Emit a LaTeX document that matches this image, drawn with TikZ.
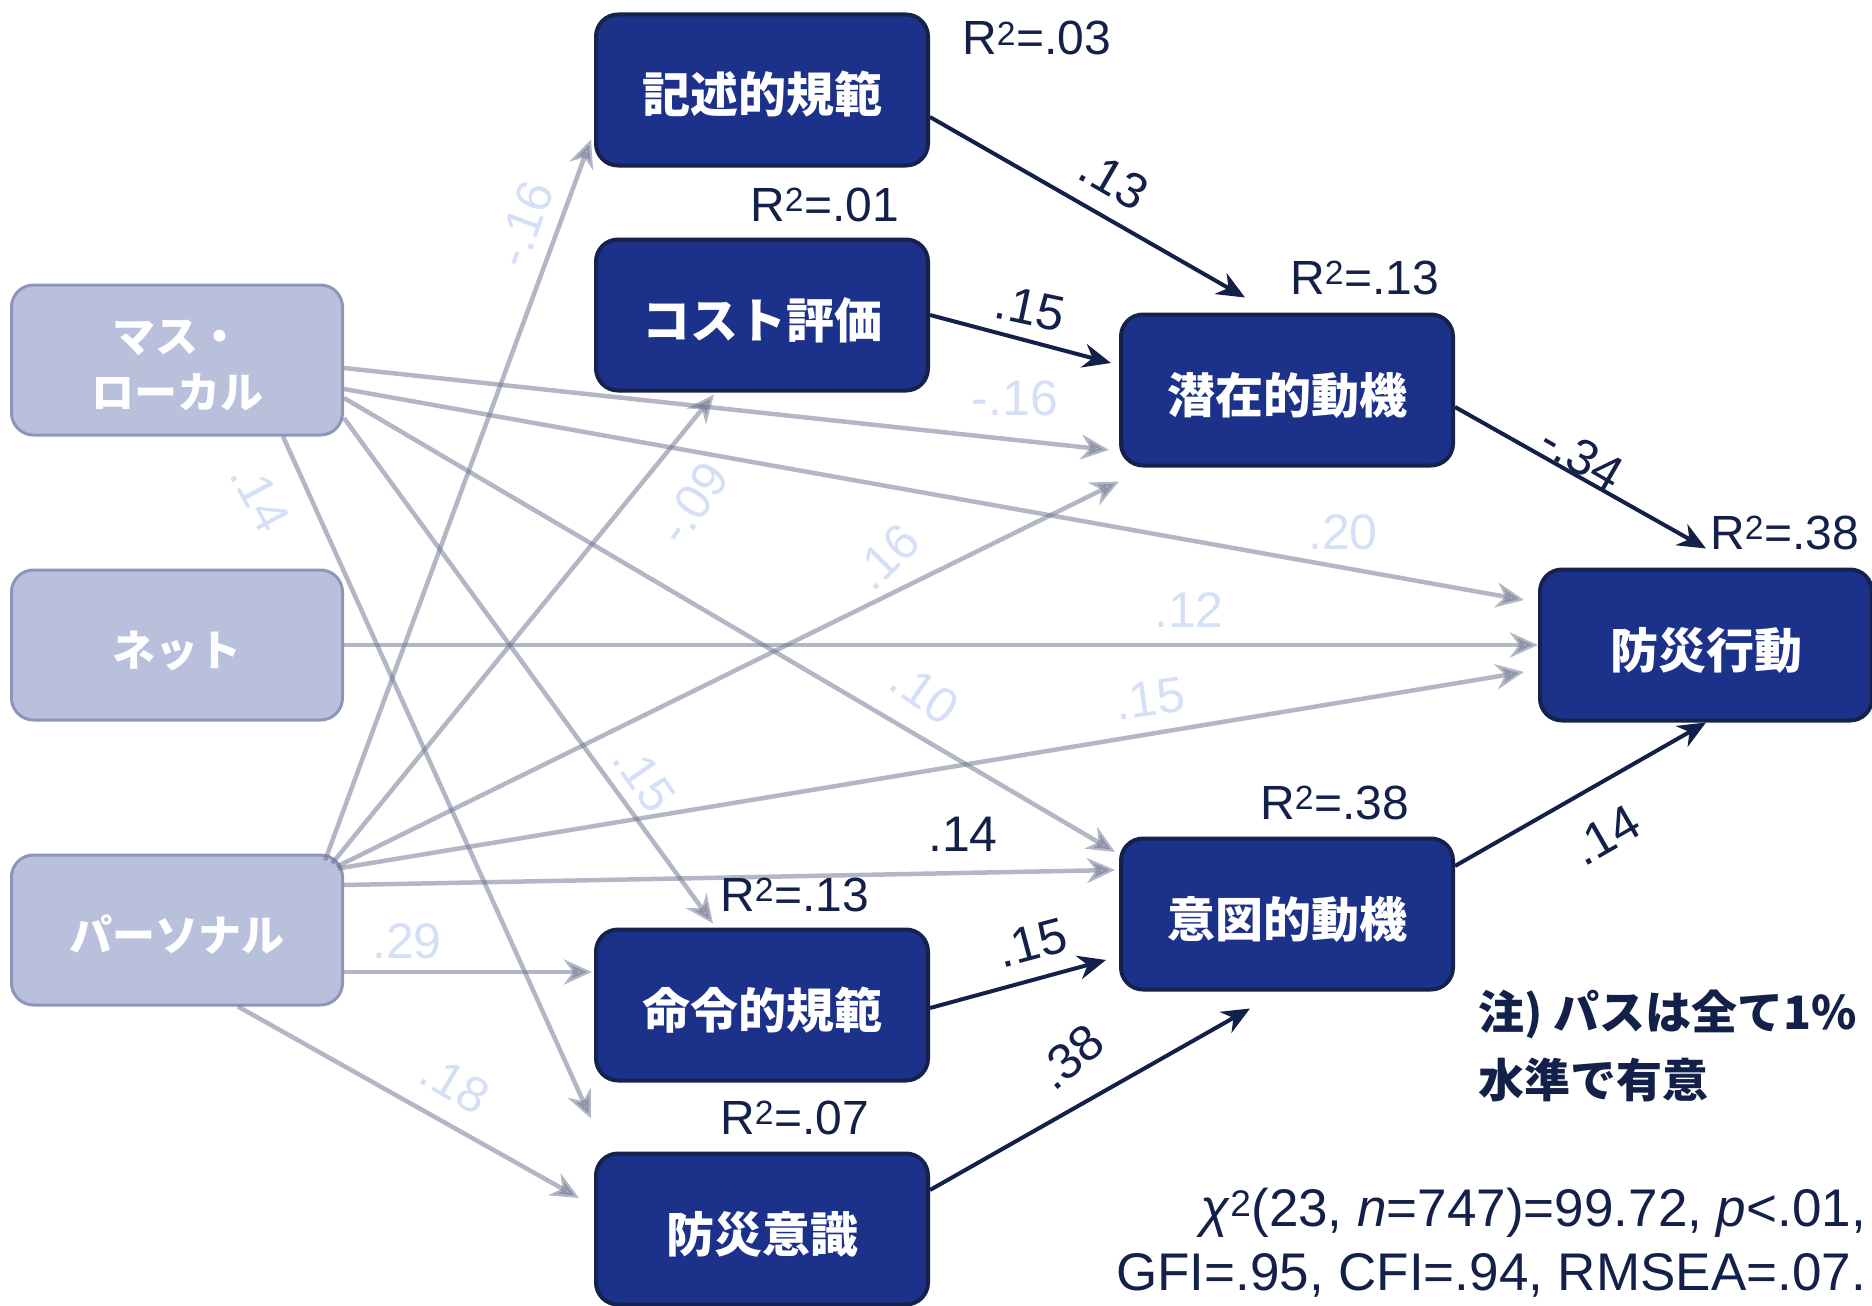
\documentclass[tikz,border=0pt]{standalone}
\usepackage{fontspec}
\setmainfont{Liberation Sans}
\newfontfamily\jpfont{Noto Sans CJK JP}
\usetikzlibrary{arrows.meta,calc}
\definecolor{boxnavy}{HTML}{1C318A}
\definecolor{boxedge}{HTML}{14224D}
\definecolor{srcfill}{HTML}{B9C0DC}
\definecolor{srcedge}{HTML}{8C96B9}
\definecolor{ink}{HTML}{13214A}
\definecolor{ghost}{HTML}{6E7590}
\definecolor{labelblue}{HTML}{D5DFF6}
\begin{document}
\begin{tikzpicture}[x=1pt,y=-1pt,
  darkbox/.style={rectangle, rounded corners=22pt, fill=boxnavy, draw=boxedge, line width=4pt,
    minimum width=332pt, minimum height=151pt, inner sep=0pt, text=white,
    text height=46pt, text depth=0pt,
    font=\jpfont\bfseries\fontsize{48}{56}\selectfont},
  srcbox/.style={rectangle, rounded corners=22pt, fill=srcfill, draw=srcedge, line width=3pt,
    minimum width=331pt, minimum height=150pt, inner sep=0pt, text=white, align=center,
    text height=42pt, text depth=0pt,
    font=\jpfont\bfseries\fontsize{43}{56}\selectfont},
  darkarrow/.style={draw=ink, line width=4pt, -{Stealth[length=28pt,width=24pt,inset=9pt]}},
  ghostarrow/.style={draw=ghost, opacity=0.52, line width=4.5pt, -{Stealth[length=28pt,width=25pt,inset=9pt]}},
  glabel/.style={text=labelblue, font=\fontsize{50}{50}\selectfont, inner sep=0pt},
  dlabel/.style={text=ink, font=\fontsize{50}{50}\selectfont, inner sep=0pt},
  rsq/.style={text=ink, font=\fontsize{48}{48}\selectfont, anchor=base west, inner sep=0pt},
  note/.style={text=ink, font=\jpfont\bfseries\fontsize{46}{56}\selectfont, anchor=base west, inner sep=0pt},
  fit/.style={text=ink, font=\fontsize{53}{53}\selectfont, anchor=base east, inner sep=0pt},
]
\useasboundingbox (0,0) rectangle (1872,1306);

% exogenous sources
\node[srcbox, text height=96pt] (mass) at (177,360) {マス・\\ローカル};
\node[srcbox] (net)  at (177,645) {ネット};
\node[srcbox] (pers) at (177,930) {パーソナル};

% mediators and outcome
\node[darkbox] (desc)   at (762,90)    {記述的規範};
\node[darkbox] (cost)   at (762,315)   {コスト評価};
\node[darkbox] (latent) at (1287,390)  {潜在的動機};
\node[darkbox] (behav)  at (1706,645)  {防災行動};
\node[darkbox] (intent) at (1287,914)  {意図的動機};
\node[darkbox] (injunc) at (762,1005)  {命令的規範};
\node[darkbox] (aware)  at (762,1229)  {防災意識};

% paths from the media sources
\draw[ghostarrow] ($(mass.east)+(0,8)$)   -- ($(latent.west)+(-10,60)$);
\draw[ghostarrow] ($(mass.east)+(0,29)$)  -- ($(behav.west)+(-14,-45)$);
\draw[ghostarrow] ($(mass.east)+(0,38)$)  -- ($(intent.west)+(-4,-62)$);
\draw[ghostarrow] ($(mass.east)+(0,58)$)  -- ($(injunc.north)+(-49,-4)$);
\draw[ghostarrow] ($(mass.south)+(106,0)$) -- ($(aware.north west)+(-3,-33)$);
\draw[ghostarrow] (net.east) -- (behav.west);
\draw[ghostarrow] ($(pers.north east)+(-19,7)$)  -- ($(desc.south west)+(-3,-28)$);
\draw[ghostarrow] ($(pers.north east)+(-12,10)$) -- ($(cost.south)+(-48,2)$);
\draw[ghostarrow] ($(pers.north east)+(-7,13)$)  -- ($(latent.south west)+(0,14)$);
\draw[ghostarrow] ($(pers.north east)+(-6,15)$)  -- ($(behav.west)+(-14,27)$);
\draw[ghostarrow] ($(pers.east)+(0,-45)$) -- ($(intent.west)+(-4,-44)$);
\draw[ghostarrow] ($(pers.east)+(0,42)$)  -- ($(injunc.west)+(-2,-33)$);
\draw[ghostarrow] ($(pers.south)+(61,0)$) -- ($(aware.west)+(-15,-31)$);

% paths between the psychological variables
\draw[darkarrow] ($(desc.east)+(0,27)$)    -- ($(latent.north)+(-42,-15)$);
\draw[darkarrow] (cost.east)               -- ($(latent.west)+(-8,-27)$);
\draw[darkarrow] ($(latent.east)+(0,17)$)  -- ($(behav.north)+(0,-19)$);
\draw[darkarrow] ($(intent.east)+(0,-48)$) -- (behav.south);
\draw[darkarrow] ($(injunc.east)+(0,3)$)   -- ($(intent.west)+(-13,46)$);
\draw[darkarrow] ($(aware.east)+(0,-39)$)  -- ($(intent.south)+(-37,17)$);

% coefficients of the media paths
\node[glabel] (ga) at (1015,398) {-.16};
\node[glabel] (gb) at (1343,532) {.20};
\node[glabel, rotate=-35] (gc) at (925,693) {.10};
\node[glabel, rotate=-55] (gd) at (644,778) {.15};
\node[glabel, rotate=-62] (ge) at (260,497) {.14};
\node[glabel] (gf) at (1189,610) {.12};
\node[glabel, rotate=70] (gg) at (524,224) {-.16};
\node[glabel, rotate=55] (gh) at (693,503) {-.09};
\node[glabel, rotate=45] (gi) at (886,557) {.16};
\node[glabel, rotate=8] (gj) at (1150,699) {.15};
\node[dlabel] (gk) at (963,834) {.14};
\node[glabel] (gl) at (407,941) {.29};
\node[glabel, rotate=-30] (gm) at (455,1084) {.18};

% coefficients of the psychological paths
\node[dlabel, rotate=-30] (d1) at (1114,180) {.13};
\node[dlabel, rotate=-12] (d2) at (1030,308) {.15};
\node[dlabel, rotate=-30] (d3) at (1582,457) {-.34};
\node[dlabel, rotate=30]  (d4) at (1606,835) {.14};
\node[dlabel, rotate=15]  (d5) at (1032,943) {.15};
\node[dlabel, rotate=40]  (d6) at (1070,1057) {.38};

% explained variance
\node[rsq] (r1) at (962,55)   {R\textsuperscript{2}=.03};
\node[rsq] (r2) at (750,221)  {R\textsuperscript{2}=.01};
\node[rsq] (r3) at (1290,294) {R\textsuperscript{2}=.13};
\node[rsq] (r4) at (1710,549) {R\textsuperscript{2}=.38};
\node[rsq] (r5) at (1260,819) {R\textsuperscript{2}=.38};
\node[rsq] (r6) at (720,911)  {R\textsuperscript{2}=.13};
\node[rsq] (r7) at (720,1134) {R\textsuperscript{2}=.07};

% note and fit indices
\node[note] (n1) at (1478,1029) {注) パスは全て1\%};
\node[note] (n2) at (1478,1097) {水準で有意};
\node[fit] (f1) at (1866,1226) {\textit{χ}\textsuperscript{2}(23, \textit{n}=747)=99.72, \textit{p}<.01,};
\node[fit] (f2) at (1866,1290) {GFI=.95, CFI=.94, RMSEA=.07.};
\end{tikzpicture}
\end{document}
